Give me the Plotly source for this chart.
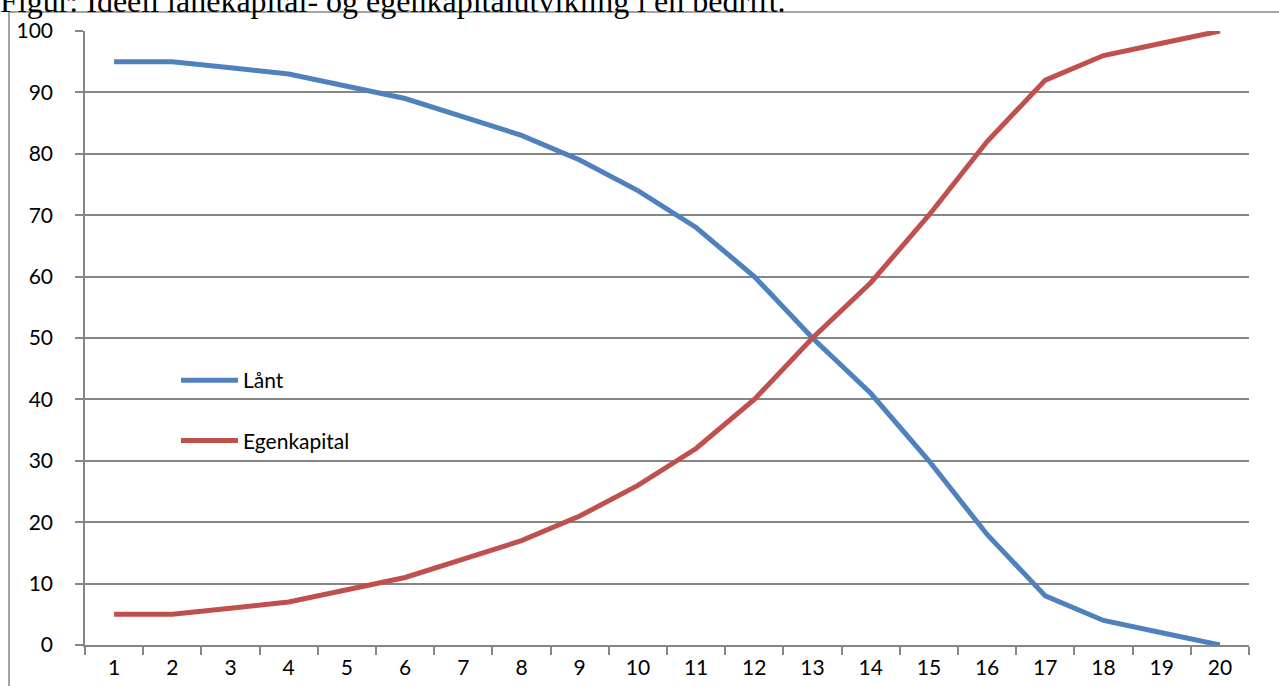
import plotly.graph_objects as go

periods = list(range(1, 21))
laant = [95, 95, 94, 93, 91, 89, 86, 83, 79, 74, 68, 60, 50, 41, 30, 18, 8, 4, 2, 0]
egenkapital = [5, 5, 6, 7, 9, 11, 14, 17, 21, 26, 32, 40, 50, 59, 70, 82, 92, 96, 98, 100]
y_ticks = list(range(0, 101, 10))
title_text = "Figur: Ideell lånekapital- og egenkapitalutvikling i en bedrift."

W, H = 1279, 686
L, R, T, B = 85, 30, 31, 41
pw, ph = W - L - R, H - T - B

def px_x(p):
    return (p - L) / pw

def px_y(p):
    return (H - B - p) / ph

fig = go.Figure()
fig.add_trace(go.Scatter(x=periods, y=laant, mode="lines", name="Lånt",
                         line=dict(color="#4F81BD", width=5), legendgroup="a"))
fig.add_trace(go.Scatter(x=periods, y=egenkapital, mode="lines", name="Egenkapital",
                         line=dict(color="#C0504D", width=5), legendgroup="b"))

axis_col = "#868686"
font = dict(family="Lato, Calibri, sans-serif", size=21, color="#000000")

fig.update_layout(
    width=W, height=H,
    margin=dict(l=L, r=R, t=T, b=B, pad=0, autoexpand=False),
    paper_bgcolor="white", plot_bgcolor="white",
    font=font,
    showlegend=True,
    legend=dict(x=px_x(176), y=px_y(360), xanchor="left", yanchor="top",
                bgcolor="rgba(0,0,0,0)", tracegroupgap=30, font=font,
                itemwidth=57),
    xaxis=dict(range=[0.5, 20.5], tickmode="array", tickvals=periods,
               ticktext=[str(p) for p in periods], ticks="", showgrid=False,
               zeroline=False, showline=True, linecolor=axis_col, linewidth=1.5,
               tickfont=font, ticklabelstandoff=3, automargin=False,
               minor=dict(tick0=0.5, dtick=1, ticks="outside", ticklen=8,
                          tickcolor=axis_col, tickwidth=1.5, showgrid=False)),
    yaxis=dict(range=[0, 100], tickmode="array", tickvals=y_ticks,
               ticks="outside", ticklen=8, tickcolor=axis_col, tickwidth=1.5,
               showgrid=True, gridcolor=axis_col, gridwidth=1.5,
               zeroline=False, showline=True, linecolor=axis_col, linewidth=1.5,
               tickfont=font, ticklabelstandoff=18, automargin=False),
    shapes=[dict(type="rect", xref="paper", yref="paper",
                 x0=px_x(9), x1=px_x(W + 20), y0=px_y(H + 20), y1=px_y(12),
                 line=dict(color=axis_col, width=1.5), fillcolor="rgba(0,0,0,0)",
                 layer="below")],
    annotations=[dict(text=title_text, xref="paper", yref="paper",
                      x=px_x(-2), y=px_y(21), xanchor="left", yanchor="bottom",
                      showarrow=False,
                      font=dict(family="Liberation Serif, Times New Roman, serif",
                                size=32, color="#000000"))],
)

fig.write_html("out.html", config={"displayModeBar": False},
               post_script="document.body.style.margin='0';document.body.style.overflow='hidden';")
